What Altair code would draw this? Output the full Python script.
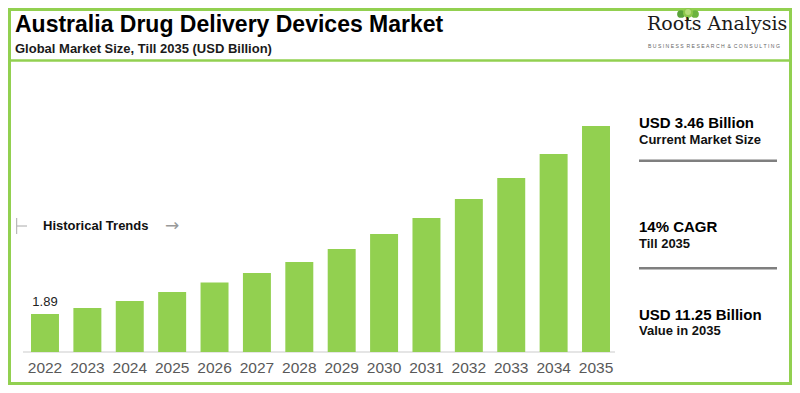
import altair as alt
import pandas as pd

# ---- data ----
years = ["2022", "2023", "2024", "2025", "2026", "2027", "2028",
         "2029", "2030", "2031", "2032", "2033", "2034", "2035"]
values = [1.89, 2.19, 2.54, 2.99, 3.46, 3.93, 4.48,
          5.12, 5.87, 6.67, 7.61, 8.66, 9.85, 11.25]
labelled_year = "2022"

title_text = "Australia Drug Delivery Devices Market"
subtitle_text = "Global Market Size, Till 2035 (USD Billion)"
side_heads = ["USD 3.46 Billion", "14% CAGR", "USD 11.25 Billion"]
side_subs = ["Current Market Size", "Till 2035", "Value in 2035"]
tagline = "BUSINESS RESEARCH & CONSULTING"

GREEN = "#92D050"
SANS = "Liberation Sans, Arial, Helvetica, sans-serif"
NARROW = "Liberation Sans Narrow, Arial Narrow, Liberation Sans, Arial, sans-serif"
SERIF = "DejaVu Serif, Georgia, serif"
W, H = 784, 377

df = pd.DataFrame({"year": years, "value": values})
one = alt.Data(values=[{"k": 1}])

xscale = alt.Scale(range=[15.8, 609.2], paddingInner=0.34, paddingOuter=0.17)
yscale = alt.Scale(domain=[0, 12], range=[344, 102.8], nice=False)
X = alt.X("year:N", scale=xscale, axis=None, sort=years)
Y = alt.Y("value:Q", scale=yscale, axis=None)


def txt(t, x, y, size, weight="bold", color="#000000", font=SANS,
        align="left", baseline="alphabetic"):
    return alt.Chart(one).mark_text(
        text=t, fontSize=size, fontWeight=weight, color=color, font=font,
        align=align, baseline=baseline
    ).encode(x=alt.value(x), y=alt.value(y))


def hline(x1, x2, y, color, width):
    return alt.Chart(one).mark_rule(color=color, strokeWidth=width).encode(
        x=alt.value(x1), x2=alt.value(x2), y=alt.value(y))


def vline(x, y1, y2, color, width):
    return alt.Chart(one).mark_rule(color=color, strokeWidth=width).encode(
        x=alt.value(x), y=alt.value(y1), y2=alt.value(y2))


def dot(x, y, size, color):
    return alt.Chart(one).mark_circle(size=size, color=color, opacity=1).encode(
        x=alt.value(x), y=alt.value(y))


layers = []

# baseline
layers.append(hline(15, 607, 344, "#dcdcdc", 1.5))

# bars
bars = alt.Chart(df).mark_bar(color=GREEN).encode(x=X, y=Y)
layers.append(bars)

# value label on first bar
vlabel = alt.Chart(df).transform_filter(
    alt.datum.year == labelled_year
).mark_text(fontSize=13, color="#222222", font=SANS, baseline="alphabetic",
            dy=-8).encode(x=X, y=Y, text=alt.Text("value:Q", format=".2f"))
layers.append(vlabel)

# x labels
xlabels = alt.Chart(df).mark_text(
    fontSize=15.5, color="#595959", font=NARROW, baseline="alphabetic"
).encode(x=X, y=alt.value(365), text="year:N")
layers.append(xlabels)

# title block
layers.append(txt(title_text, 7, 23.5, 23))
layers.append(txt(subtitle_text, 7, 44.7, 13, color="#1a1a1a"))
layers.append(hline(0, W, 52.5, GREEN, 2.5))

# border
layers.append(alt.Chart(one).mark_rect(
    fillOpacity=0, stroke=GREEN, strokeWidth=3
).encode(x=alt.value(1.5), x2=alt.value(W - 1.5),
         y=alt.value(1.5), y2=alt.value(H - 1.5)))

# logo
layers.append(vline(680, 7, 12, "#4a7a30", 2))
layers.append(dot(673, 6, 60, "#5aa33a"))
layers.append(dot(687, 6, 60, "#6bb33f"))
layers.append(dot(680, 5, 100, "#8cc84b"))
layers.append(dot(680, 4, 35, "#b5dd7a"))
layers.append(txt("Roots Analysis", 639, 22, 19, weight="normal",
                  color="#1a1a1a", font=SERIF))
spaced = "\u00a0\u00a0".join("\u00a0".join(w) for w in tagline.split(" "))
layers.append(txt(spaced, 640, 40, 5.1, weight="normal", color="#666666"))

# historical trends marker
layers.append(vline(8.7, 210, 226, "#aaaaaa", 1))
layers.append(hline(9, 19, 218, "#aaaaaa", 1))
layers.append(txt("Historical Trends", 35, 222, 13, color="#111111"))
layers.append(txt("\u2192", 157, 218, 17, weight="normal", color="#999999",
                  baseline="middle", font="DejaVu Sans, sans-serif"))

# right panel
heads_y = [120, 223.7, 312]
subs_y = [136, 239.7, 327]
for h, s, hy, sy in zip(side_heads, side_subs, heads_y, subs_y):
    layers.append(txt(h, 631, hy, 15, color="#000000"))
    layers.append(txt(s, 631, sy, 13, color="#111111"))
layers.append(hline(631, 769, 152.7, "#7f7f7f", 2.5))
layers.append(hline(631, 769, 260.3, "#7f7f7f", 2.5))

chart = alt.layer(*layers).properties(
    width=W, height=H, padding=0, autosize=alt.AutoSizeParams(type="none"),
    background="#ffffff"
).configure_view(stroke=None)

chart.save("out.html", embed_options={"renderer": "svg", "actions": False})
